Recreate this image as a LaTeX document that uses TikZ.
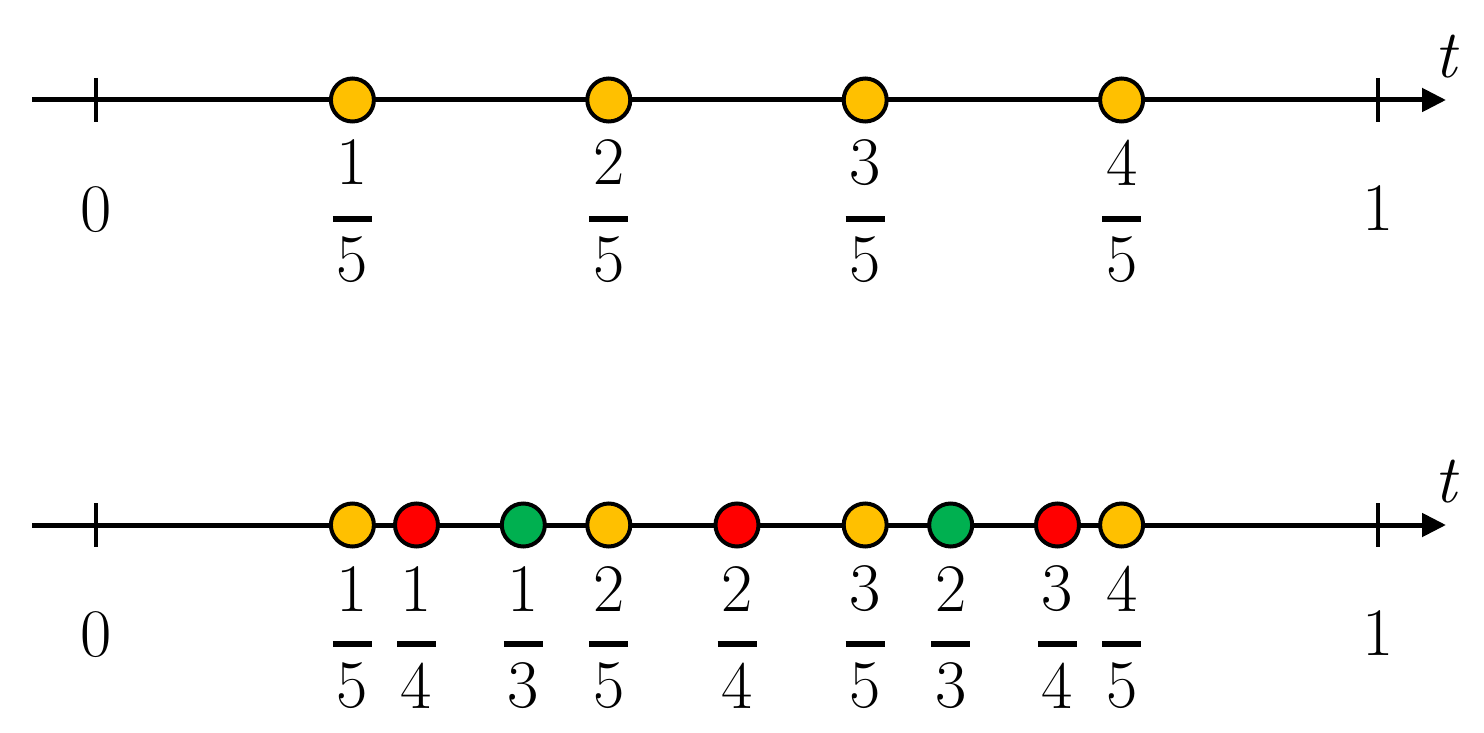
\documentclass[tikz,border=0pt]{standalone}
\usepackage{fontspec}
\usetikzlibrary{arrows.meta}
\definecolor{gold}{HTML}{FFC000}
\definecolor{rd}{HTML}{FF0000}
\definecolor{gr}{HTML}{00B050}
\begin{document}
\begin{tikzpicture}[x=1pt,y=-1pt,
  axisline/.style={line width=5pt,-{Triangle[length=24pt,width=23pt]}},
  tickmark/.style={line width=4.5pt},
  dot/.style={circle,draw=black,line width=4pt,minimum size=43pt,inner sep=0pt},
  num/.style={font=\fontsize{68}{80}\selectfont,inner sep=0pt},
  fbar/.style={line width=6pt}]
\useasboundingbox (0,0) rectangle (1484,733);
\foreach \yy/\tag in {100/a,525/b}{
  \coordinate (s\tag) at (32,\yy);
  \coordinate (e\tag) at (1446,\yy);
  \draw[axisline] (s\tag) -- (e\tag);
  \draw[tickmark] (96,\yy-22) -- (96,\yy+22);
  \draw[tickmark] (1378,\yy-22) -- (1378,\yy+22);
  \node[num] (zero\tag) at (96,\yy+110) {0};
  \node[num] (one\tag) at (1378,\yy+108) {1};
  \node[num] (t\tag) at (1446,\yy-43) {\itshape t};
}
% top line dots
\foreach \n/\d [count=\i] in {1/5,2/5,3/5,4/5}{
  \pgfmathsetmacro{\xx}{96+1282*\n/\d}
  \node[dot,fill=gold] (ta\i) at (\xx,100) {};
  \node[num] (tan\i) at (\xx,162.5) {\n};
  \node[num] (tad\i) at (\xx,260) {\d};
  \draw[fbar] (\xx-19.5,218.5) -- (\xx+19.5,218.5);
}
% bottom line dots
\foreach \n/\d/\c [count=\i] in {1/5/gold,1/4/rd,1/3/gr,2/5/gold,2/4/rd,3/5/gold,2/3/gr,3/4/rd,4/5/gold}{
  \pgfmathsetmacro{\xx}{96+1282*\n/\d}
  \node[dot,fill=\c] (bb\i) at (\xx,525) {};
  \node[num] (bbn\i) at (\xx,589) {\n};
  \node[num] (bbd\i) at (\xx,685.5) {\d};
  \draw[fbar] (\xx-19.5,644) -- (\xx+19.5,644);
}
\end{tikzpicture}
\end{document}
